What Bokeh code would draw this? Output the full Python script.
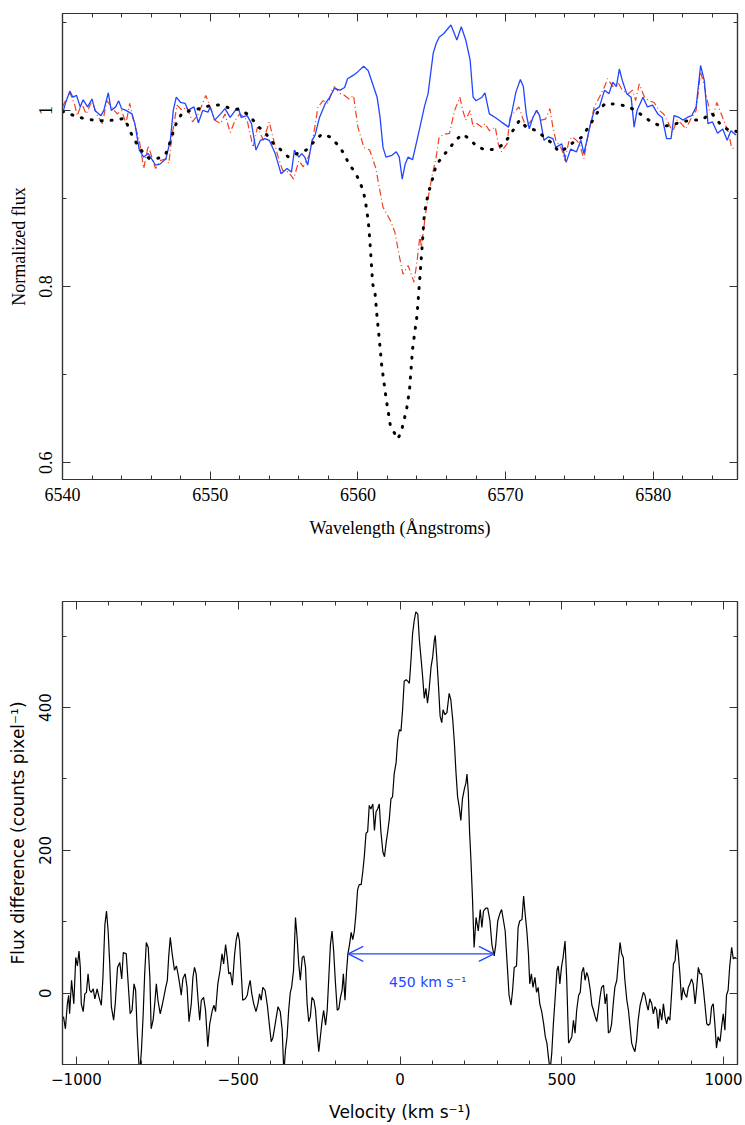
from bokeh.plotting import figure
from bokeh.models import (LinearAxis, SingleIntervalTicker, CustomJSTickFormatter,
                          Range1d, Arrow, OpenHead)
from bokeh.layouts import column
from bokeh.embed import file_html
from bokeh.resources import INLINE
from bokeh.core.properties import value

# ---------------- top panel data ----------------
obs_blue_wl = [6540.0, 6540.2, 6540.5, 6540.7, 6540.95, 6541.2, 6541.4, 6541.7, 6542.0, 6542.2,
               6542.6, 6542.8, 6543.1, 6543.3, 6543.6, 6543.8, 6544.0, 6544.3, 6544.7, 6544.9,
               6545.2, 6545.5, 6545.8, 6546.3, 6546.6, 6547.0, 6547.3, 6547.5, 6547.7, 6548.0,
               6548.3, 6548.5, 6548.9, 6549.2, 6549.5, 6549.85, 6550.0, 6550.3, 6550.7, 6551.0,
               6551.35, 6551.7, 6551.9, 6552.1, 6552.5, 6552.8, 6553.1, 6553.4, 6553.7, 6554.0,
               6554.4, 6554.8, 6555.2, 6555.5, 6555.7, 6556.0, 6556.2, 6556.4, 6556.6, 6556.9,
               6557.1, 6557.4, 6557.8, 6558.1, 6558.4, 6558.8, 6559.1, 6559.3, 6559.7, 6560.0,
               6560.4, 6560.7, 6561.0, 6561.3, 6561.5, 6561.7, 6561.9, 6562.3, 6562.6, 6562.8,
               6563.0, 6563.2, 6563.4, 6563.7, 6563.85, 6564.2, 6564.5, 6564.75, 6565.1, 6565.3,
               6565.5, 6565.8, 6566.1, 6566.3, 6566.7, 6567.0, 6567.3, 6567.6, 6567.8, 6568.0,
               6568.4, 6568.6, 6568.9, 6569.3, 6569.7, 6570.2, 6570.45, 6570.7, 6571.0, 6571.2,
               6571.4, 6571.6, 6571.85, 6572.1, 6572.3, 6572.6, 6572.9, 6573.2, 6573.4, 6573.8,
               6574.1, 6574.4, 6574.8, 6575.1, 6575.3, 6575.7, 6576.0, 6576.35, 6576.7, 6577.0,
               6577.25, 6577.5, 6577.7, 6577.9, 6578.2, 6578.5, 6578.7, 6578.9, 6579.3, 6579.6,
               6579.95, 6580.3, 6580.6, 6580.9, 6581.2, 6581.4, 6581.75, 6582.0, 6582.3, 6582.6,
               6582.9, 6583.2, 6583.45, 6583.7, 6584.0, 6584.35, 6584.7, 6585.0, 6585.25, 6585.6]
obs_blue_flux = [0.996, 1.008, 1.022, 1.015, 1.017, 1.004, 1.012, 1.004, 1.013, 1.000,
                 0.994, 1.000, 1.020, 1.000, 1.004, 1.011, 1.002, 1.000, 0.996, 0.985,
                 0.955, 0.947, 0.951, 0.938, 0.939, 0.945, 0.966, 1.000, 1.015, 1.009,
                 1.008, 1.000, 1.004, 0.986, 1.000, 0.998, 1.004, 0.989, 0.996, 1.002,
                 0.992, 1.000, 1.003, 0.992, 0.994, 0.985, 0.955, 0.966, 0.968, 0.966,
                 0.951, 0.928, 0.934, 0.930, 0.955, 0.947, 0.951, 0.947, 0.938, 0.966,
                 0.972, 0.992, 1.008, 1.015, 1.025, 1.023, 1.026, 1.036, 1.040, 1.044,
                 1.050, 1.045, 1.030, 1.015, 0.992, 0.958, 0.947, 0.949, 0.953, 0.947,
                 0.922, 0.939, 0.947, 0.944, 0.955, 0.981, 1.004, 1.019, 1.065, 1.076,
                 1.083, 1.087, 1.093, 1.097, 1.080, 1.095, 1.080, 1.057, 1.015, 1.011,
                 1.015, 1.020, 0.996, 0.992, 0.987, 0.981, 1.000, 1.021, 1.035, 1.027,
                 0.996, 0.979, 0.992, 1.000, 0.994, 0.966, 0.970, 0.968, 0.958, 0.962,
                 0.941, 0.956, 0.953, 0.966, 0.951, 0.981, 1.000, 1.004, 1.023, 1.019,
                 1.032, 1.027, 1.047, 1.034, 1.019, 1.015, 0.981, 1.000, 1.015, 1.004,
                 1.006, 0.996, 0.992, 0.968, 0.968, 0.994, 0.992, 0.989, 0.992, 0.994,
                 1.004, 1.051, 1.034, 0.985, 0.987, 0.974, 0.979, 0.966, 0.977, 0.972]

obs_red_wl = [6540.0, 6540.2, 6540.5, 6540.8, 6541.0, 6541.3, 6541.6, 6542.0, 6542.3, 6542.7,
              6543.0, 6543.4, 6543.7, 6544.0, 6544.3, 6544.55, 6544.8, 6545.2, 6545.5, 6545.8,
              6546.3, 6546.6, 6547.0, 6547.2, 6547.4, 6547.75, 6548.1, 6548.4, 6548.8, 6549.2,
              6549.7, 6550.0, 6550.3, 6550.7, 6551.0, 6551.35, 6551.7, 6552.0, 6552.5, 6552.9,
              6553.2, 6553.6, 6554.0, 6554.3, 6554.6, 6554.9, 6555.3, 6555.65, 6556.0, 6556.3,
              6556.7, 6557.0, 6557.3, 6557.65, 6558.0, 6558.25, 6558.4, 6558.8, 6559.1, 6559.4,
              6559.7, 6560.0, 6560.4, 6560.8, 6561.2, 6561.7, 6562.2, 6562.5, 6562.8, 6563.05,
              6563.4, 6563.8, 6564.0, 6564.2, 6564.3, 6564.6, 6565.0, 6565.3, 6565.5, 6565.9,
              6566.2, 6566.55, 6566.9, 6567.1, 6567.3, 6567.6, 6567.8, 6568.05, 6568.4, 6568.6,
              6568.9, 6569.3, 6569.5, 6569.7, 6570.1, 6570.3, 6570.6, 6570.9, 6571.2, 6571.4,
              6571.8, 6572.1, 6572.4, 6572.7, 6573.0, 6573.2, 6573.4, 6573.8, 6574.0, 6574.3,
              6574.5, 6574.8, 6575.0, 6575.3, 6575.6, 6575.8, 6576.0, 6576.35, 6576.7, 6576.9,
              6577.25, 6577.6, 6577.9, 6578.3, 6578.6, 6578.8, 6579.05, 6579.4, 6579.7, 6580.05,
              6580.4, 6580.7, 6581.1, 6581.3, 6581.6, 6581.9, 6582.2, 6582.6, 6582.9, 6583.2,
              6583.45, 6583.8, 6584.05, 6584.3, 6584.6, 6584.85, 6585.1, 6585.3, 6585.6]
obs_red_flux = [1.004, 1.011, 1.020, 1.008, 0.994, 1.008, 0.996, 1.011, 0.996, 0.985,
                1.011, 1.002, 0.996, 1.000, 0.985, 1.008, 0.989, 0.966, 0.934, 0.960,
                0.934, 0.943, 0.945, 0.940, 0.969, 1.006, 1.000, 1.004, 0.987, 0.996,
                1.017, 1.004, 0.989, 0.985, 0.996, 0.975, 0.989, 0.996, 0.989, 0.958,
                0.981, 0.966, 0.987, 0.966, 0.947, 0.932, 0.930, 0.922, 0.943, 0.936,
                0.949, 0.973, 1.004, 1.011, 1.008, 1.023, 1.027, 1.019, 1.017, 1.013,
                1.017, 0.981, 0.958, 0.955, 0.935, 0.890, 0.875, 0.862, 0.835, 0.814,
                0.824, 0.805, 0.828, 0.858, 0.845, 0.885, 0.924, 0.947, 0.970, 0.973,
                0.974, 1.000, 1.015, 1.000, 0.989, 1.000, 0.981, 0.985, 0.981, 0.985,
                0.977, 0.981, 0.962, 0.953, 0.962, 0.992, 0.998, 1.004, 0.989, 0.981,
                0.990, 1.000, 0.989, 0.990, 1.002, 0.981, 0.966, 0.956, 0.943, 0.966,
                0.970, 0.966, 0.962, 0.945, 0.973, 0.989, 1.004, 1.015, 1.027, 1.036,
                1.027, 1.032, 1.023, 1.019, 1.023, 1.011, 1.030, 1.015, 1.011, 1.009,
                1.000, 0.996, 0.983, 0.975, 0.989, 0.985, 0.979, 0.992, 1.000, 1.044,
                1.028, 1.000, 0.994, 1.009, 0.996, 0.985, 0.974, 0.958, 0.955]

model_wl = [6540.0, 6540.8, 6541.4, 6542.1, 6542.8, 6543.5, 6544.2, 6544.7, 6545.1, 6545.5,
            6545.9, 6546.6, 6547.0, 6547.35, 6547.55, 6547.8, 6548.15, 6548.8, 6549.5, 6550.1,
            6550.75, 6551.4, 6552.0, 6552.6, 6553.3, 6553.8, 6554.3, 6554.8, 6555.3, 6555.9,
            6556.5, 6557.0, 6557.55, 6558.1, 6558.7, 6559.05, 6559.4, 6559.8, 6560.1, 6560.35,
            6560.5, 6560.6, 6560.7, 6560.81, 6561.0, 6561.15, 6561.3, 6561.45, 6561.6, 6561.9,
            6562.2, 6562.7, 6562.95, 6563.3, 6563.5, 6563.7, 6564.0, 6564.2, 6564.4, 6564.5,
            6564.75, 6565.0, 6565.3, 6565.8, 6566.2, 6566.6, 6567.1, 6567.6, 6568.05, 6568.65,
            6569.3, 6569.9, 6570.3, 6570.95, 6571.4, 6572.1, 6572.6, 6573.2, 6573.6, 6574.1,
            6574.6, 6575.2, 6575.6, 6575.95, 6576.3, 6576.75, 6577.5, 6578.2, 6578.8, 6579.35,
            6579.95, 6580.55, 6581.2, 6581.9, 6582.6, 6583.25, 6583.95, 6584.55, 6585.15, 6585.7]
model_flux = [0.999, 0.994, 0.991, 0.989, 0.988, 0.989, 0.991, 0.972, 0.960, 0.951,
              0.945, 0.946, 0.951, 0.967, 0.979, 0.989, 0.998, 1.000, 1.003, 1.006,
              1.006, 1.002, 1.001, 0.995, 0.981, 0.973, 0.962, 0.955, 0.947, 0.951,
              0.955, 0.964, 0.973, 0.970, 0.960, 0.951, 0.939, 0.930, 0.920, 0.909,
              0.898, 0.886, 0.875, 0.852, 0.803, 0.794, 0.765, 0.740, 0.712, 0.674,
              0.642, 0.627, 0.636, 0.661, 0.684, 0.729, 0.767, 0.811, 0.858, 0.883,
              0.905, 0.919, 0.938, 0.949, 0.957, 0.966, 0.973, 0.967, 0.959, 0.955,
              0.956, 0.962, 0.972, 0.989, 0.981, 0.977, 0.970, 0.962, 0.953, 0.957,
              0.964, 0.970, 0.981, 0.990, 1.000, 1.008, 1.007, 1.005, 1.000, 0.993,
              0.986, 0.982, 0.983, 0.987, 0.989, 0.989, 0.997, 0.984, 0.977, 0.976]

# ---------------- bottom panel data ----------------
velocity = [-1040, -1034, -1028, -1024, -1021, -1015, -1008, -1002, -997, -992, -988, -985, -979, -974,
            -969, -964, -959, -954, -948, -943, -936, -930, -923, -918, -912, -907, -902, -897,
            -892, -885, -880, -873, -866, -860, -855, -846, -840, -834, -828, -822, -817, -812,
            -805, -799, -794, -789, -784, -778, -773, -769, -763, -758, -753, -748, -741, -735,
            -730, -724, -719, -715, -710, -704, -697, -691, -686, -681, -676, -671, -664, -658,
            -652, -645, -640, -635, -630, -624, -619, -614, -607, -601, -594, -588, -580, -575,
            -570, -563, -556, -550, -545, -539, -534, -529, -524, -518, -511, -506, -501, -496,
            -491, -486, -478, -472, -468, -463, -458, -452, -445, -439, -434, -429, -424, -417,
            -410, -404, -398, -393, -387, -382, -377, -370, -364, -359, -354, -349, -344, -339,
            -335, -329, -323, -318, -313, -308, -302, -297, -292, -287, -282, -277, -272, -266,
            -261, -256, -251, -246, -241, -236, -230, -225, -220, -215, -210, -205, -200, -194,
            -189, -184, -179, -175, -170, -165, -161, -156, -151, -146, -141, -136, -131, -126,
            -120, -115, -110, -105, -100, -95, -90, -84, -79, -74, -69, -64, -59, -53,
            -48, -43, -38, -33, -28, -23, -18, -12, -7, -2, 3, 8, 13, 19,
            24, 29, 34, 39, 44, 49, 55, 60, 65, 70, 75, 80, 85, 90,
            96, 101, 106, 109, 114, 119, 124, 129, 133, 139, 145, 152, 157, 163,
            168, 173, 178, 183, 188, 193, 199, 204, 207, 211, 215, 219, 224, 229,
            235, 242, 248, 253, 258, 265, 271, 278, 284, 291, 296, 302, 309, 314,
            320, 325, 330, 337, 343, 348, 353, 360, 365, 370, 377, 382, 387, 392,
            397, 401, 406, 411, 417, 422, 427, 432, 438, 444, 449, 454, 459, 464,
            469, 474, 479, 485, 489, 494, 499, 504, 510, 515, 521, 526, 531, 536,
            541, 546, 552, 557, 562, 567, 572, 577, 582, 588, 593, 598, 603, 608,
            613, 618, 623, 629, 634, 639, 644, 649, 654, 659, 664, 670, 675, 680,
            685, 690, 695, 701, 706, 711, 716, 721, 726, 731, 736, 742, 747, 752,
            757, 762, 767, 772, 778, 783, 788, 793, 798, 803, 809, 814, 819, 824,
            829, 834, 840, 845, 850, 855, 860, 865, 870, 875, 880, 886, 891, 896,
            901, 906, 912, 917, 922, 927, 932, 937, 943, 948, 953, 958, 963, 968,
            973, 978, 983, 989, 994, 999, 1004, 1009, 1014, 1019, 1025, 1030, 1035, 1040]
flux_diff = [-33, -50, -15, -3, -29, 18, -15, 50, 38, 59, 36, -15, -26, -1,
             1, 27, 4, 1, 6, -8, 6, -6, -17, 22, 96, 115, 87, 41,
             -19, -38, -15, 36, 43, 20, 57, 55, 13, -29, -24, 13, 4, -56,
             -115, -80, -33, 27, 71, 64, 22, -50, -38, -15, 13, -10, -29, -17,
             -6, 8, 18, 50, 78, 55, 32, 38, 27, 13, -3, 20, 27, 8,
             -40, -15, 22, 36, 27, -10, -38, -10, -6, -24, -75, -43, -24, -17,
             -26, 13, 32, 55, 41, 68, 50, 27, 29, 11, 55, 75, 85, 73,
             32, -10, -8, -3, 8, 18, -1, -15, -26, -15, -1, -10, 8, 4,
             -17, -43, -68, -63, -47, -33, -19, -26, -52, -112, -80, -61, -24, 1,
             8, 32, 106, 78, 41, 18, 50, 52, 36, -15, -40, -33, -6, -10,
             -24, -56, -82, -61, -40, -24, -45, -24, 22, 68, 87, 59, 18, -24,
             -22, -6, 4, 27, -10, 32, 55, 68, 85, 75, 87, 112, 145, 152,
             152, 170, 193, 224, 226, 263, 258, 265, 228, 254, 258, 265, 226, 198,
             191, 210, 226, 244, 272, 275, 307, 323, 356, 369, 367, 397, 437, 439,
             437, 434, 467, 504, 522, 534, 531, 494, 469, 443, 413, 427, 406, 425,
             457, 471, 494, 501, 467, 430, 388, 379, 397, 390, 393, 420, 411, 383,
             351, 309, 275, 261, 242, 272, 286, 295, 307, 282, 226, 189, 133, 64,
             106, 87, 117, 92, 115, 119, 119, 101, 68, 52, 68, 101, 112, 117,
             101, 87, 50, -3, -17, 4, 36, 38, 92, 101, 103, 136, 110, 87,
             55, 13, 27, 8, 22, 1, 8, -15, -26, -43, -61, -70, -91, -108,
             -84, -43, -10, 32, 38, 13, 36, 50, 73, 22, -70, -66, -61, -38,
             -56, -24, -3, 1, 29, 36, 18, 29, 22, 4, -17, -24, -33, -40,
             -24, -6, 8, 11, -15, -1, -56, -54, -43, -15, 8, 18, 45, 71,
             55, 50, 18, -10, -24, -47, -70, -77, -82, -66, -38, -17, -8, 1,
             -3, -15, -24, -8, -15, -29, -19, -24, -50, -22, -38, -15, -33, -43,
             -33, -38, 4, 41, 45, 75, 55, 27, -10, 8, -1, -6, 8, 13,
             20, 13, -15, 8, 36, 27, 27, 8, -19, -43, -45, -43, -19, -15,
             -43, -77, -61, -68, -47, -29, -52, -3, 4, 38, 64, 48, 50, 48]

# annotation: width of the emission (km/s) and its label
fwzi_limits = [-160, 290]
fwzi_level = 55
fwzi_label = "450 km s\u207b\u00b9"
fwzi_label_pos = (86, 15)

BLUE = "#2146ff"
RED = "#f2401f"
FRAME = "#333333"


def blank_formatter():
    return CustomJSTickFormatter(code="return ''")


def setup_axes(p, font, tick_size, label_size, xtick, ytick, xlabel, ylabel,
               xminor, yminor, yformatter, xformatter, lab_stand, ax_stand):
    for ax in [p.xaxis[0], p.yaxis[0]]:
        ax.major_tick_in = 8
        ax.major_tick_out = 0
        ax.minor_tick_in = 4
        ax.minor_tick_out = 0
        ax.axis_line_color = FRAME
        ax.axis_line_width = 1.2
        ax.major_tick_line_color = FRAME
        ax.minor_tick_line_color = FRAME
        ax.major_label_text_font = font
        ax.major_label_text_font_size = tick_size
        ax.major_label_text_color = "black"
        ax.axis_label_text_font = font
        ax.axis_label_text_font_size = label_size
        ax.axis_label_text_font_style = "normal"
        ax.axis_label_text_color = "black"
    p.xaxis[0].ticker = SingleIntervalTicker(interval=xtick, num_minor_ticks=xminor)
    p.yaxis[0].ticker = SingleIntervalTicker(interval=ytick, num_minor_ticks=yminor)
    p.xaxis[0].axis_label = xlabel
    p.yaxis[0].axis_label = ylabel
    p.yaxis[0].formatter = yformatter
    p.xaxis[0].formatter = xformatter
    p.yaxis[0].major_label_orientation = "vertical"
    p.xaxis[0].major_label_standoff = lab_stand[0]
    p.yaxis[0].major_label_standoff = lab_stand[1]
    p.xaxis[0].axis_label_standoff = ax_stand[0]
    p.yaxis[0].axis_label_standoff = ax_stand[1]
    # mirrored axes with ticks only
    for loc, tick, nmin in [("above", xtick, xminor), ("right", ytick, yminor)]:
        ax = LinearAxis(ticker=SingleIntervalTicker(interval=tick, num_minor_ticks=nmin),
                        formatter=blank_formatter())
        ax.major_tick_in = 8
        ax.major_tick_out = 0
        ax.minor_tick_in = 4
        ax.minor_tick_out = 0
        ax.major_label_standoff = 0
        ax.major_label_text_font_size = "0px"
        ax.axis_line_color = FRAME
        ax.axis_line_width = 1.2
        ax.major_tick_line_color = FRAME
        ax.minor_tick_line_color = FRAME
        p.add_layout(ax, loc)
    p.xgrid.visible = False
    p.ygrid.visible = False
    p.outline_line_color = FRAME
    p.outline_line_width = 1.2


# ---------------- top figure ----------------
p1 = figure(width=745, height=555, x_range=Range1d(6540, 6585.7), y_range=Range1d(0.581, 1.110),
            output_backend="svg", toolbar_location=None,
            min_border_left=62, min_border_right=8, min_border_top=13, min_border_bottom=76)
p1.background_fill_color = "white"
p1.border_fill_color = "white"

p1.line(obs_red_wl, obs_red_flux, line_color=RED, line_width=1.2, line_dash="7 3 1 3")
p1.line(obs_blue_wl, obs_blue_flux, line_color=BLUE, line_width=1.3)
p1.line(model_wl, model_flux, line_color="black", line_width=3, line_dash="1 9", line_cap="round")

setup_axes(p1, "Liberation Serif", "18px", "18px", 10, 0.2, "Wavelength (\u00c5ngstroms)",
           "Normalized flux", 5, 2,
           CustomJSTickFormatter(code="return String(Math.round(tick*10)/10)"),
           CustomJSTickFormatter(code="return String(Math.round(tick))"),
           (8, 10), (14, 8))

# ---------------- bottom figure ----------------
p2 = figure(width=745, height=569, x_range=Range1d(-1043, 1043), y_range=Range1d(-100, 548.6),
            output_backend="svg", toolbar_location=None,
            min_border_left=62, min_border_right=8, min_border_top=46, min_border_bottom=56)
p2.background_fill_color = "white"
p2.border_fill_color = "white"

p2.line(velocity, flux_diff, line_color="black", line_width=1.2)

arrow = Arrow(start=OpenHead(size=15, line_color=BLUE, line_width=1.3),
              end=OpenHead(size=15, line_color=BLUE, line_width=1.3),
              x_start=fwzi_limits[0], x_end=fwzi_limits[1], y_start=fwzi_level, y_end=fwzi_level,
              line_color=BLUE, line_width=1.3)
p2.add_layout(arrow)
p2.text(x=[fwzi_label_pos[0]], y=[fwzi_label_pos[1]], text=[fwzi_label], text_color=BLUE,
        text_font=value("DejaVu Sans"), text_font_size="14px", text_align="center",
        text_baseline="middle")

setup_axes(p2, "DejaVu Sans", "15px", "17px", 500, 200, "Velocity (km s\u207b\u00b9)",
           "Flux difference (counts pixel\u207b\u00b9)", 5, 2,
           CustomJSTickFormatter(code="return String(Math.round(tick)).replace('-', '\u2212')"),
           CustomJSTickFormatter(code="return String(Math.round(tick)).replace('-', '\u2212')"),
           (8, 11), (14, 9))

layout = column(p1, p2, spacing=0)
open("out.html", "w").write(file_html(layout, INLINE))
